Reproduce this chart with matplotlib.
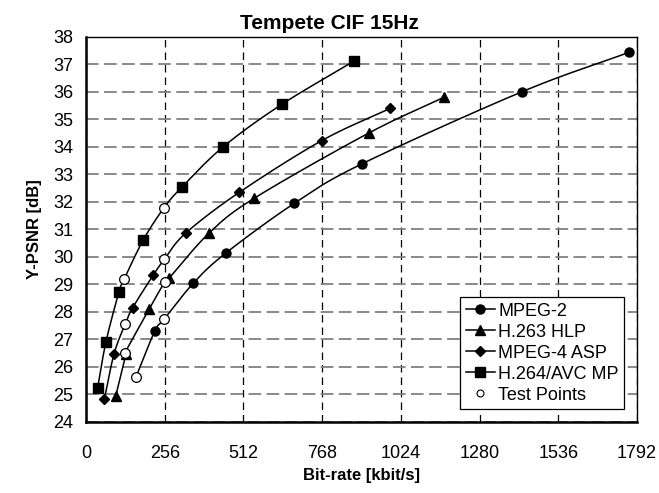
import numpy as np
import matplotlib.pyplot as plt

plt.rcParams['font.family'] = ['Liberation Sans', 'DejaVu Sans']

# rate (kbit/s) and Y-PSNR (dB) for each codec
mpeg2_rate = [224, 349, 454, 678, 897, 1419, 1766]
mpeg2_psnr = [27.30, 29.04, 30.13, 31.95, 33.38, 36.01, 37.44]

h263_rate = [97, 130, 205, 270, 400, 547, 919, 1165]
h263_psnr = [24.95, 26.45, 28.09, 29.22, 30.86, 32.13, 34.50, 35.81]

mpeg4_rate = [60, 91, 152, 219, 324, 499, 767, 989]
mpeg4_psnr = [24.83, 26.46, 28.15, 29.34, 30.86, 32.35, 34.23, 35.40]

h264_rate = [38, 65, 107, 186, 313, 447, 637, 873]
h264_psnr = [25.24, 26.91, 28.71, 30.61, 32.55, 34.01, 35.55, 37.13]

# test points, two per codec (same order as above)
test_rate = [163, 254, 127, 257, 127, 255, 124, 254]
test_psnr = [25.64, 27.73, 26.51, 29.10, 27.54, 29.91, 29.18, 31.79]

xticks = [0, 256, 512, 768, 1024, 1280, 1536, 1792]


def smooth(x, y, n=20):
    # catmull-rom through the points, like the smoothed lines of the original
    x = np.asarray(x, float)
    y = np.asarray(y, float)
    px = np.concatenate([[2*x[0]-x[1]], x, [2*x[-1]-x[-2]]])
    py = np.concatenate([[2*y[0]-y[1]], y, [2*y[-1]-y[-2]]])
    t = np.linspace(0, 1, n)
    xs, ys = [], []
    for i in range(1, len(px)-2):
        for p, out in ((px, xs), (py, ys)):
            p0, p1, p2, p3 = p[i-1], p[i], p[i+1], p[i+2]
            out.extend(0.5*((2*p1) + (-p0+p2)*t + (2*p0-5*p1+4*p2-p3)*t**2
                            + (-p0+3*p1-3*p2+p3)*t**3))
    return xs, ys


fig = plt.figure(figsize=(6.59, 4.93), dpi=100)
ax = fig.add_axes([0.1305, 0.1446, 0.836, 0.7804])

series = [(mpeg2_rate, mpeg2_psnr, 'o', 6.5, 'MPEG-2'),
          (h263_rate, h263_psnr, '^', 6.5, 'H.263 HLP'),
          (mpeg4_rate, mpeg4_psnr, 'D', 5, 'MPEG-4 ASP'),
          (h264_rate, h264_psnr, 's', 6.5, 'H.264/AVC MP')]
handles = []
for k, (r, p, m, ms, lab) in enumerate(series):
    # the curve passes through the codec's own test points too
    cr = list(r) + test_rate[2*k:2*k+2]
    cp = list(p) + test_psnr[2*k:2*k+2]
    order = np.argsort(cp)
    sx, sy = smooth(np.array(cr)[order], np.array(cp)[order])
    ax.plot(sx, sy, color='black', lw=1.1, zorder=3)
    ax.plot(r, p, linestyle='none', marker=m, ms=ms, color='black', zorder=4)
    h, = ax.plot([], [], color='black', lw=1.1, marker=m, ms=ms, label=lab)
    handles.append(h)

ax.plot(test_rate, test_psnr, linestyle='none', marker='o', ms=7,
        mfc='white', mec='black', mew=0.9, zorder=5)
tp, = ax.plot([], [], linestyle='none', marker='o', ms=5,
              mfc='white', mec='black', mew=0.8, label='Test Points')
handles.append(tp)

ax.set_xlim(0, 1792)
ax.set_ylim(24, 38)
ax.set_xticks(xticks)
ax.set_xticklabels([str(v) for v in xticks])
ax.set_yticks(range(24, 39))
ax.tick_params(length=0, labelsize=13)
ax.tick_params(axis='x', pad=17)
ax.tick_params(axis='y', pad=9)

ax.yaxis.grid(True, color='#808080', linestyle=(0, (7, 3)), lw=1.3)
ax.xaxis.grid(True, color='black', linestyle=(0, (6, 4)), lw=0.9)
ax.set_axisbelow(True)

ax.spines['left'].set_linewidth(1.8)
ax.spines['bottom'].set_linewidth(1.8)
ax.spines['top'].set_linewidth(1.0)
ax.spines['right'].set_linewidth(1.0)

fig.text(0.5, 0.942, 'Tempete CIF 15Hz', fontsize=15, fontweight='bold',
         ha='center', va='baseline')
ax.set_xlabel('Bit-rate [kbit/s]', fontsize=12, fontweight='bold', labelpad=4)
ax.set_ylabel('Y-PSNR [dB]', fontsize=12, fontweight='bold', labelpad=8)

leg = ax.legend(handles=handles, loc='lower right', fontsize=13, frameon=True,
                fancybox=False, edgecolor='black', framealpha=1,
                handlelength=1.6, handletextpad=0.2, labelspacing=0.22,
                borderpad=0.3, borderaxespad=0.7)
leg.get_frame().set_linewidth(0.9)

plt.savefig('out.png', dpi=100)
